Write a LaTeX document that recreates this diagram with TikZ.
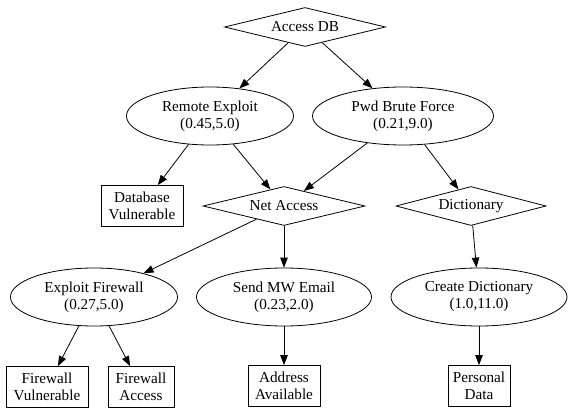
\documentclass[tikz,border=0pt]{standalone}
\usepackage{fontspec}
\setmainfont{Liberation Serif}
\usepackage{tikz}
\usetikzlibrary{shapes.geometric}
\usetikzlibrary{arrows.meta}

\begin{document}
\begin{tikzpicture}[x=1pt, y=-1pt, line width=0.8pt,
  every node/.style={draw, font=\fontsize{15.2}{17}\selectfont, align=center, inner sep=0pt},
  goal/.style={diamond, aspect=4, minimum height=39pt},
  attack/.style={ellipse, minimum height=58pt},
  fact/.style={rectangle, minimum height=41pt},
  edge/.style={-{Triangle[length=10pt,width=7.5pt]}}]
\useasboundingbox (0,0) rectangle (568,409);

% goals
\node [goal, minimum width=161pt] (accessdb) at (305,27) {Access DB};
\node [goal, minimum width=162pt] (netaccess) at (284,206) {Net Access};
\node [goal, minimum width=150pt] (dictionary) at (471,206) {Dictionary};

% attacks
\node [attack, minimum width=167pt] (remote) at (210,116) {Remote Exploit\\(0.45,5.0)};
\node [attack, minimum width=181pt] (brute) at (403,116) {Pwd Brute Force\\(0.21,9.0)};
\node [attack, minimum width=167pt] (exploitfw) at (94,297) {Exploit Firewall\\(0.27,5.0)};
\node [attack, minimum width=175pt] (sendmw) at (284,297) {Send MW Email\\(0.23,2.0)};
\node [attack, minimum width=176pt] (createdict) at (479,297) {Create Dictionary\\(1.0,11.0)};

% facts
\node [fact, minimum width=82pt] (dbvuln) at (142,206) {Database\\Vulnerable};
\node [fact, minimum width=82pt] (fwvuln) at (47,387) {Firewall\\Vulnerable};
\node [fact, minimum width=66pt] (fwaccess) at (141,387) {Firewall\\Access};
\node [fact, minimum width=72pt] (address) at (284,386) {Address\\Available};
\node [fact, minimum width=62pt] (personal) at (479,386) {Personal\\Data};

\draw [edge] (accessdb) -- (remote);
\draw [edge] (accessdb) -- (brute);
\draw [edge] (remote) -- (dbvuln);
\draw [edge] (remote) -- (netaccess);
\draw [edge] (brute) -- (netaccess);
\draw [edge] (brute) -- (dictionary);
\draw [edge] (netaccess) -- (exploitfw);
\draw [edge] (netaccess) -- (sendmw);
\draw [edge] (dictionary) -- (createdict);
\draw [edge] (exploitfw) -- (fwvuln);
\draw [edge] (exploitfw) -- (fwaccess);
\draw [edge] (sendmw) -- (address);
\draw [edge] (createdict) -- (personal);
\end{tikzpicture}
\end{document}
